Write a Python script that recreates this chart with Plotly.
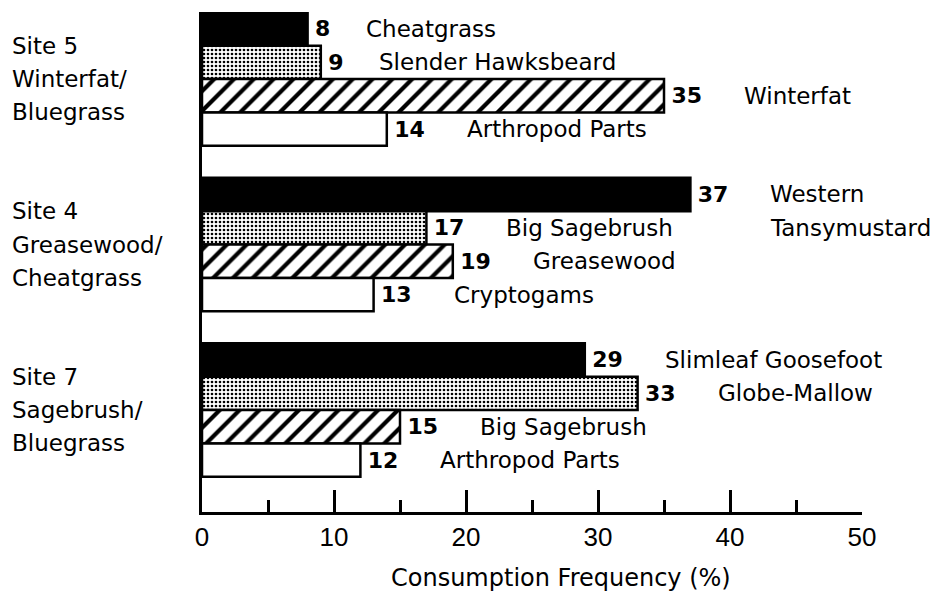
import plotly.graph_objects as go

# sites, top to bottom
sites = ['Site 5', 'Site 4', 'Site 7']
site_lines = [
	['Site 5', 'Winterfat/', 'Bluegrass'],
	['Site 4', 'Greasewood/', 'Cheatgrass'],
	['Site 7', 'Sagebrush/', 'Bluegrass'],
]

# four bars per site, one list per fill style
black_vals = [8, 37, 29]
black_names = ['Cheatgrass', 'Western<br>Tansymustard', 'Slimleaf Goosefoot']

dot_vals = [9, 17, 33]
dot_names = ['Slender Hawksbeard', 'Big Sagebrush', 'Globe-Mallow']

hatch_vals = [35, 19, 15]
hatch_names = ['Winterfat', 'Greasewood', 'Big Sagebrush']

white_vals = [14, 13, 12]
white_names = ['Arthropod Parts', 'Cryptogams', 'Arthropod Parts']

x_ticks = [0, 10, 20, 30, 40, 50]

LABEL_FONT = dict(family='DejaVu Sans', size=23, color='black')
BARGAP = 0.193
SLOT = (1 - BARGAP) / 4

series = [
	(black_vals, black_names, dict(color='black')),
	(dot_vals, dot_names, dict(color='white', pattern=dict(shape='.', fgcolor='black', fgopacity=1, bgcolor='white', size=4, solidity=0.35))),
	(hatch_vals, hatch_names, dict(color='white', pattern=dict(shape='/', fgcolor='black', fgopacity=1, bgcolor='white', size=14, solidity=0.3))),
	(white_vals, white_names, dict(color='white')),
]

fig = go.Figure()
annotations = []

for k, (vals, names, marker) in enumerate(series):
	marker['line'] = dict(color='black', width=2.5)
	fig.add_trace(go.Bar(
		x=vals,
		y=sites,
		orientation='h',
		marker=marker,
		text=[f'\u2009{v}' for v in vals],
		textposition='outside',
		textfont=dict(family='DejaVu Sans', size=22, color='black', weight='bold'),
		constraintext='none',
		cliponaxis=False,
		showlegend=False
	))
	for i, (v, name) in enumerate(zip(vals, names)):
		for j, line in enumerate(name.split('<br>')):
			annotations.append(dict(
				x=v,
				y=i + (k + j - 1.5) * SLOT,
				xref='x', yref='y',
				text=line,
				showarrow=False,
				xanchor='left',
				yanchor='middle',
				xshift=34 + 22 * len(str(v)),
				font=LABEL_FONT
			))

for i, lines in enumerate(site_lines):
	for j, line in enumerate(lines):
		annotations.append(dict(
			x=0,
			y=i + (j - 1) * 0.2,
			xref='paper', yref='y',
			text=line,
			showarrow=False,
			xanchor='left',
			yanchor='middle',
			xshift=-192,
			font=LABEL_FONT
		))

annotations.append(dict(
	x=0.544, y=0,
	xref='paper', yref='paper',
	text='Consumption Frequency (%)',
	showarrow=False,
	xanchor='center',
	yanchor='middle',
	yshift=-66,
	font=dict(family='DejaVu Sans', size=24, color='black')
))

fig.update_layout(
	barmode='group',
	bargap=BARGAP,
	bargroupgap=0,
	width=948,
	height=594,
	margin=dict(l=202, r=86, t=12, b=82),
	paper_bgcolor='white',
	plot_bgcolor='white',
	annotations=annotations,
	xaxis=dict(
		range=[0, 50],
		tickvals=x_ticks,
		ticks='inside',
		ticklen=22,
		tickwidth=2.5,
		tickcolor='black',
		minor=dict(dtick=5, ticks='inside', ticklen=12, tickwidth=2.5, tickcolor='black', showgrid=False),
		showline=True,
		linewidth=3,
		linecolor='black',
		showgrid=False,
		zeroline=False,
		tickfont=dict(family='Liberation Sans', size=26, color='black')
	),
	yaxis=dict(
		categoryorder='array',
		categoryarray=sites,
		range=[2.616, -0.405],
		showline=True,
		linewidth=3,
		linecolor='black',
		showticklabels=False,
		ticks='',
		showgrid=False,
		zeroline=False
	)
)

fig.write_html(
	"out.html",
	config={'displayModeBar': False},
	post_script="document.body.style.margin='0';"
)
